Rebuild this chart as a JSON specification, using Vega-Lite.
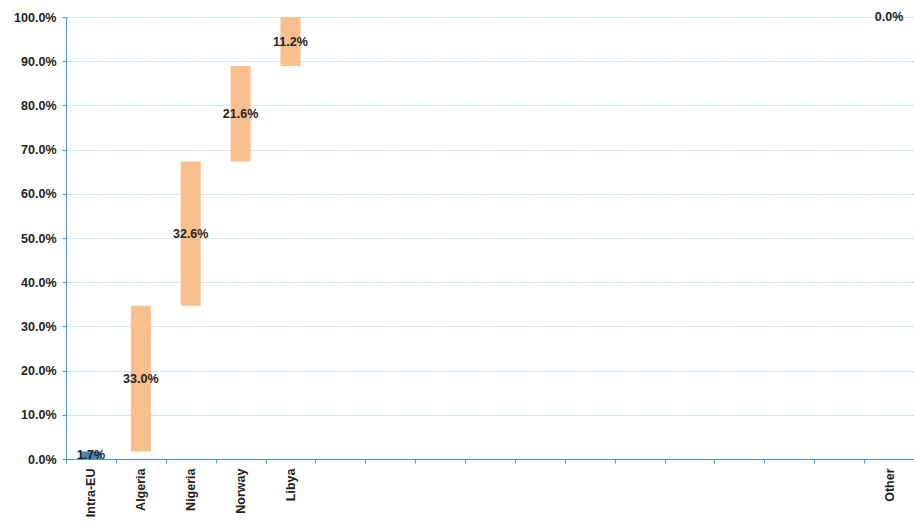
{
  "$schema": "https://vega.github.io/schema/vega-lite/v6.json",
  "width": 848,
  "height": 442,
  "autosize": "none",
  "padding": {"left": 66, "top": 17, "right": 0, "bottom": 63},
  "background": "white",
  "config": {"view": {"stroke": null}, "font": "Liberation Sans"},
  "data": {"values": [
    {"country": "Intra-EU", "start": 0, "end": 0.017, "mid": 0.0085, "label": "1.7%", "kind": "EU"},
    {"country": "Algeria", "start": 0.017, "end": 0.347, "mid": 0.182, "label": "33.0%", "kind": "ext"},
    {"country": "Nigeria", "start": 0.347, "end": 0.673, "mid": 0.51, "label": "32.6%", "kind": "ext"},
    {"country": "Norway", "start": 0.673, "end": 0.889, "mid": 0.781, "label": "21.6%", "kind": "ext"},
    {"country": "Libya", "start": 0.889, "end": 1.0, "mid": 0.944, "label": "11.2%", "kind": "ext"},
    {"country": "Other", "start": 1.0, "end": 1.0, "mid": 1.0, "label": "0.0%", "kind": "ext"}
  ]},
  "layer": [
    {
      "mark": {"type": "bar", "size": 20},
      "encoding": {
        "x": {
          "field": "country", "type": "nominal", "sort": null,
          "scale": {"domain": ["Intra-EU", "Algeria", "Nigeria", "Norway", "Libya", " ", "  ", "   ", "    ", "     ", "      ", "       ", "        ", "         ", "          ", "           ", "Other"], "paddingInner": 0, "paddingOuter": 0},
          "axis": {
            "orient": "bottom",
            "title": null, "labelAngle": -90, "labelAlign": "right", "labelBaseline": "middle",
            "labelFontSize": 12.5, "labelFontWeight": "bold", "labelColor": "#222",
            "labelPadding": 5, "domainColor": "#4a9bc4", "tickColor": "#4a9bc4",
            "tickBand": "extent", "tickSize": 4, "grid": false
          }
        },
        "y": {
          "field": "start", "type": "quantitative",
          "scale": {"domain": [0, 1], "nice": false},
          "axis": {
            "title": null, "values": [0, 0.1, 0.2, 0.3, 0.4, 0.5, 0.6, 0.7, 0.8, 0.9, 1.0],
            "format": ".1%",
            "labelFontSize": 12.5, "labelFontWeight": "bold", "labelColor": "#222",
            "domainColor": "#4a9bc4", "tickColor": "#4a9bc4", "tickSize": 4,
            "gridColor": "#bcd8ee", "gridDash": [2, 1], "labelPadding": 6
          }
        },
        "y2": {"field": "end"},
        "color": {
          "field": "kind", "type": "nominal",
          "scale": {"domain": ["EU", "ext"], "range": ["#4f7fbf", "#f9c08e"]},
          "legend": null
        }
      }
    },
    {
      "mark": {"type": "text", "fontSize": 12.5, "fontWeight": "bold", "color": "#222"},
      "encoding": {
        "x": {"field": "country", "type": "nominal", "sort": null},
        "y": {"field": "mid", "type": "quantitative"},
        "text": {"field": "label"}
      }
    }
  ]
}
